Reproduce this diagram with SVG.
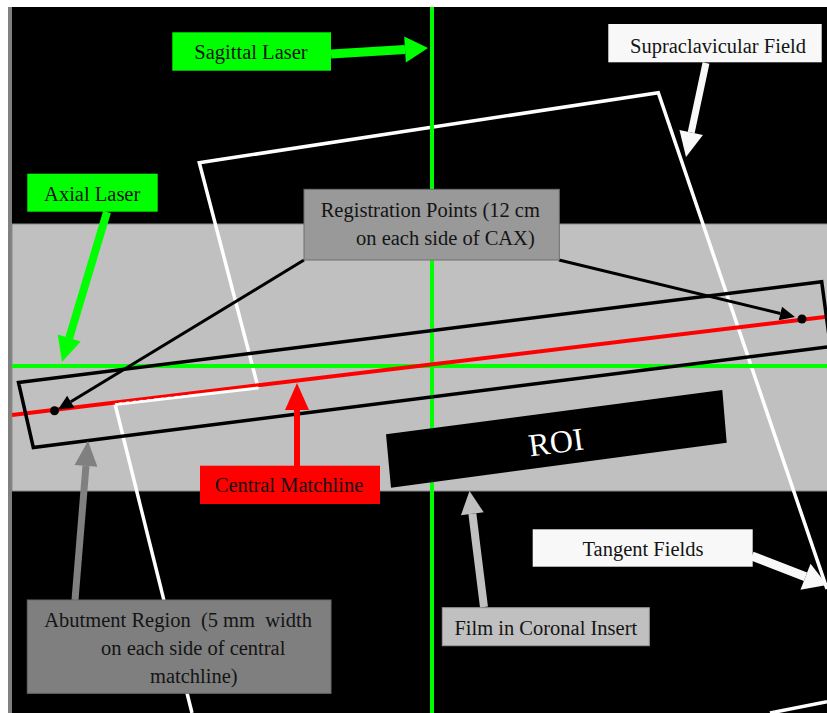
<svg xmlns="http://www.w3.org/2000/svg" width="827" height="713" viewBox="0 0 827 713">
<defs>
<style>
.t{font-family:"Liberation Serif","Times New Roman",serif;font-size:20.5px;fill:#141414}
.fld{fill:none;stroke:#ffffff;stroke-width:3.5;stroke-linejoin:miter}
.blk{fill:none;stroke:#000000;stroke-width:3.5;stroke-linejoin:miter}
</style>
<marker id="mg1" markerUnits="userSpaceOnUse" orient="auto" overflow="visible" markerWidth="23" markerHeight="26" refX="0" refY="13"><path d="M0,0 L23,13 L0,26 z" fill="#00ff00"/></marker>
<marker id="mg2" markerUnits="userSpaceOnUse" orient="auto" overflow="visible" markerWidth="25" markerHeight="24" refX="0" refY="12"><path d="M0,0 L25,12 L0,24 z" fill="#00ff00"/></marker>
<marker id="mw1" markerUnits="userSpaceOnUse" orient="auto" overflow="visible" markerWidth="25" markerHeight="24" refX="0" refY="12"><path d="M0,0 L25,12 L0,24 z" fill="#f8f8f8"/></marker>
<marker id="mw2" markerUnits="userSpaceOnUse" orient="auto" overflow="visible" markerWidth="23" markerHeight="28" refX="0" refY="14"><path d="M0,0 L23,14 L0,28 z" fill="#f8f8f8"/></marker>
<marker id="mr" markerUnits="userSpaceOnUse" orient="auto" overflow="visible" markerWidth="27" markerHeight="24" refX="0" refY="12"><path d="M0,0 L27,12 L0,24 z" fill="#ff0000"/></marker>
<marker id="mgr" markerUnits="userSpaceOnUse" orient="auto" overflow="visible" markerWidth="25" markerHeight="23" refX="0" refY="11.5"><path d="M0,0 L25,11.5 L0,23 z" fill="#808080"/></marker>
<marker id="mlg" markerUnits="userSpaceOnUse" orient="auto" overflow="visible" markerWidth="23" markerHeight="23" refX="0" refY="11.5"><path d="M0,0 L23,11.5 L0,23 z" fill="#c0c0c0"/></marker>
<marker id="mk" markerUnits="userSpaceOnUse" orient="auto" overflow="visible" markerWidth="15" markerHeight="14" refX="0" refY="7"><path d="M0,0 L15,7 L0,14 z" fill="#000000"/></marker>
</defs>

<!-- background -->
<rect x="0" y="0" width="827" height="713" fill="#ffffff"/>
<rect x="8" y="7" width="819" height="706" fill="#000000"/>
<rect x="8" y="7" width="4" height="706" fill="#808080"/>
<rect x="12" y="224" width="816" height="267" fill="#c0c0c0" stroke="#8a8a8a" stroke-width="1"/>

<!-- radiation fields -->
<g id="fields">
<polyline class="fld" points="258.3,388.5 199.3,162.7 658.3,92.7 827,589"/>
<polyline class="fld" points="115,404 192,713"/>
<line class="fld" x1="770" y1="713" x2="827" y2="701.7"/>
</g>

<!-- lasers -->
<g id="lasers">
<line x1="12" y1="366" x2="827" y2="366" stroke="#00ff00" stroke-width="4"/>
<line x1="432" y1="7" x2="432" y2="713" stroke="#00ff00" stroke-width="4"/>
</g>

<!-- matchline -->
<g id="matchline">
<line x1="12" y1="415" x2="827" y2="316.7" stroke="#ff0000" stroke-width="4"/>
<line x1="115" y1="404.5" x2="258.3" y2="388" stroke="#ffffff" stroke-width="3"/>
<line x1="115" y1="402.3" x2="188" y2="393.6" stroke="#ff0000" stroke-width="2" stroke-dasharray="4 3"/>
</g>

<!-- abutment region rectangle -->
<g id="abutment-rect">
<polygon class="blk" points="18.5,382.5 821.7,281.7 830.4,346.5 33.3,447.5"/>
</g>

<!-- ROI -->
<g id="roi">
<polygon points="386,434.3 722.3,390 726.7,442.7 391,487.7" fill="#000000"/>
<text transform="translate(556,442) rotate(-7.5)" x="0" y="11" text-anchor="middle" style="font-family:'Liberation Serif','Times New Roman',serif;font-size:32px;fill:#ffffff">ROI</text>
</g>

<!-- connectors -->
<g id="connectors">
<line x1="331" y1="54" x2="405.05" y2="49.42" stroke="#00ff00" stroke-width="9" marker-end="url(#mg1)"/>
<line x1="107" y1="212" x2="69.2" y2="338.05" stroke="#00ff00" stroke-width="8" marker-end="url(#mg2)"/>
<line x1="706" y1="63" x2="691.2" y2="132.55" stroke="#f8f8f8" stroke-width="7" marker-end="url(#mw1)"/>
<line x1="297" y1="466" x2="297" y2="410" stroke="#ff0000" stroke-width="6" marker-end="url(#mr)"/>
<line x1="75" y1="600" x2="85.96" y2="465.9" stroke="#808080" stroke-width="7" marker-end="url(#mgr)"/>
<line x1="484" y1="607" x2="472.35" y2="513.8" stroke="#c0c0c0" stroke-width="8" marker-end="url(#mlg)"/>
<line x1="752" y1="556" x2="805.5" y2="576.7" stroke="#f8f8f8" stroke-width="9" marker-end="url(#mw2)"/>
<line x1="304" y1="260" x2="70.8" y2="401.7" stroke="#000000" stroke-width="3" marker-end="url(#mk)"/>
<line x1="559" y1="260" x2="780.4" y2="313.5" stroke="#000000" stroke-width="3" marker-end="url(#mk)"/>
</g>

<!-- registration points -->
<g id="reg-points">
<circle cx="54.5" cy="410.7" r="4.5" fill="#000000"/>
<circle cx="802" cy="319" r="4.5" fill="#000000"/>
</g>

<!-- labels -->
<g id="sagittal-laser">
<rect x="172.3" y="32.3" width="158.7" height="38.4" fill="#00ff00"/>
<text class="t" x="251" y="59" text-anchor="middle">Sagittal Laser</text>
</g>
<g id="axial-laser">
<rect x="27.3" y="173.7" width="130.4" height="38" fill="#00ff00"/>
<text class="t" x="92.2" y="201" text-anchor="middle">Axial Laser</text>
</g>
<g id="supraclavicular-field">
<rect x="608.3" y="24" width="213.4" height="38.3" fill="#f8f8f8"/>
<text class="t" x="718" y="52.5" text-anchor="middle">Supraclavicular Field</text>
</g>
<g id="registration-points">
<rect x="304" y="189.3" width="255.3" height="70.7" fill="#999999" stroke="#6e6e6e" stroke-width="1"/>
<text class="t" x="320.7" y="217.3">Registration Points (12 cm</text>
<text class="t" x="356" y="245">on each side of CAX)</text>
</g>
<g id="central-matchline">
<rect x="200" y="465.7" width="180" height="38.3" fill="#ff0000"/>
<text class="t" x="289" y="492" text-anchor="middle">Central Matchline</text>
</g>
<g id="film-coronal-insert">
<rect x="442.3" y="607.7" width="207" height="38" fill="#c0c0c0" stroke="#9a9a9a" stroke-width="1"/>
<text class="t" x="545.8" y="635" text-anchor="middle">Film in Coronal Insert</text>
</g>
<g id="tangent-fields">
<rect x="532.7" y="529.3" width="220" height="37.4" fill="#f8f8f8"/>
<text class="t" x="643" y="556" text-anchor="middle">Tangent Fields</text>
</g>
<g id="abutment-region">
<rect x="27.3" y="600" width="303.7" height="93.3" fill="#7f7f7f" stroke="#6a6a6a" stroke-width="1"/>
<text class="t" x="44.3" y="626.7" xml:space="preserve">Abutment Region  (5 mm  width</text>
<text class="t" x="101" y="655" xml:space="preserve">on each side of central</text>
<text class="t" x="150" y="683">matchline)</text>
</g>
</svg>
